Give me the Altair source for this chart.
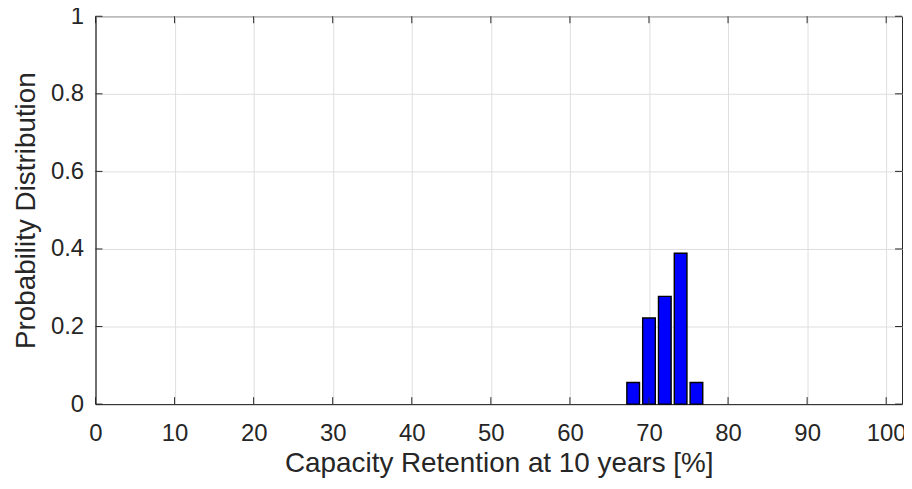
import altair as alt
import pandas as pd

# Histogram data (bin centres in %, probability per bin)
bin_centers = [68, 70, 72, 74, 76]
probabilities = [0.0556, 0.2222, 0.2778, 0.3889, 0.0556]

x_ticks = [0, 10, 20, 30, 40, 50, 60, 70, 80, 90, 100]
y_ticks = [0, 0.2, 0.4, 0.6, 0.8, 1]

title_text = "Above 2,000 km/month"
x_title = "Capacity Retention at 10 years [%]"
y_title = "Probability Distribution"

W, H = 811, 390
FONT = "Liberation Sans"
INK = "#262626"

df = pd.DataFrame({"center": bin_centers, "prob": probabilities})
xt = pd.DataFrame({"v": x_ticks})
yt = pd.DataFrame({"v": y_ticks})

xscale = alt.Scale(domain=[0, 102], nice=False, zero=False)
yscale = alt.Scale(domain=[0, 1], nice=False)

common = dict(grid=True, tickSize=0, labelFont=FONT, titleFont=FONT,
              labelFontSize=24, titleFontSize=28, labelColor=INK,
              titleColor=INK, titleFontWeight="normal", domainColor=INK,
              domainWidth=1, gridColor="#dfdfdf", gridWidth=1,
              labelOverlap=False, labelFlush=False)

xaxis = alt.Axis(values=x_ticks, format="d", labelPadding=18, titleX=W / 2,
                 titleY=68, titleBaseline="alphabetic", titleAlign="center",
                 **common)
yaxis = alt.Axis(values=y_ticks, format="~g", labelPadding=12, titleX=-61,
                 titleY=H / 2, titleAngle=270, titleBaseline="alphabetic",
                 titleAlign="center", **common)


def X(field):
    return alt.X(field, type="quantitative", scale=xscale, axis=xaxis, title=x_title)


def Y(field):
    return alt.Y(field, type="quantitative", scale=yscale, axis=yaxis, title=y_title)


bars = alt.Chart(df).transform_calculate(
    x0="datum.center - 0.8", x1="datum.center + 0.8"
).mark_rect(color="#0000ff", stroke="#000000", strokeWidth=1.4).encode(
    x=X("x0"), x2="x1:Q", y=Y("prob"), y2=alt.datum(0)
)

tick_len = 7
bottom_ticks = alt.Chart(xt).mark_rule(color=INK, strokeWidth=1).encode(
    x=X("v"), y=alt.value(H), y2=alt.value(H - tick_len))
top_ticks = alt.Chart(xt).mark_rule(color=INK, strokeWidth=1).encode(
    x=X("v"), y=alt.value(0), y2=alt.value(tick_len))
left_ticks = alt.Chart(yt).mark_rule(color=INK, strokeWidth=1).encode(
    y=Y("v"), x=alt.value(0), x2=alt.value(tick_len))
right_ticks = alt.Chart(yt).mark_rule(color=INK, strokeWidth=1).encode(
    y=Y("v"), x=alt.value(W), x2=alt.value(W - tick_len))

chart = alt.layer(bars, bottom_ticks, top_ticks, left_ticks, right_ticks).properties(
    width=W, height=H, background="white",
    title=alt.TitleParams(title_text, fontSize=28, fontWeight="bold", font=FONT,
                          color="#000000", frame="group", offset=4,
                          baseline="alphabetic", anchor="middle"),
    autosize=alt.AutoSizeParams(type="none"),
    padding={"left": 88, "top": 7, "right": 2, "bottom": 75},
).configure_view(
    stroke=INK, strokeWidth=1
)

chart.save("out.html", embed_options={"renderer": "svg", "actions": False})
